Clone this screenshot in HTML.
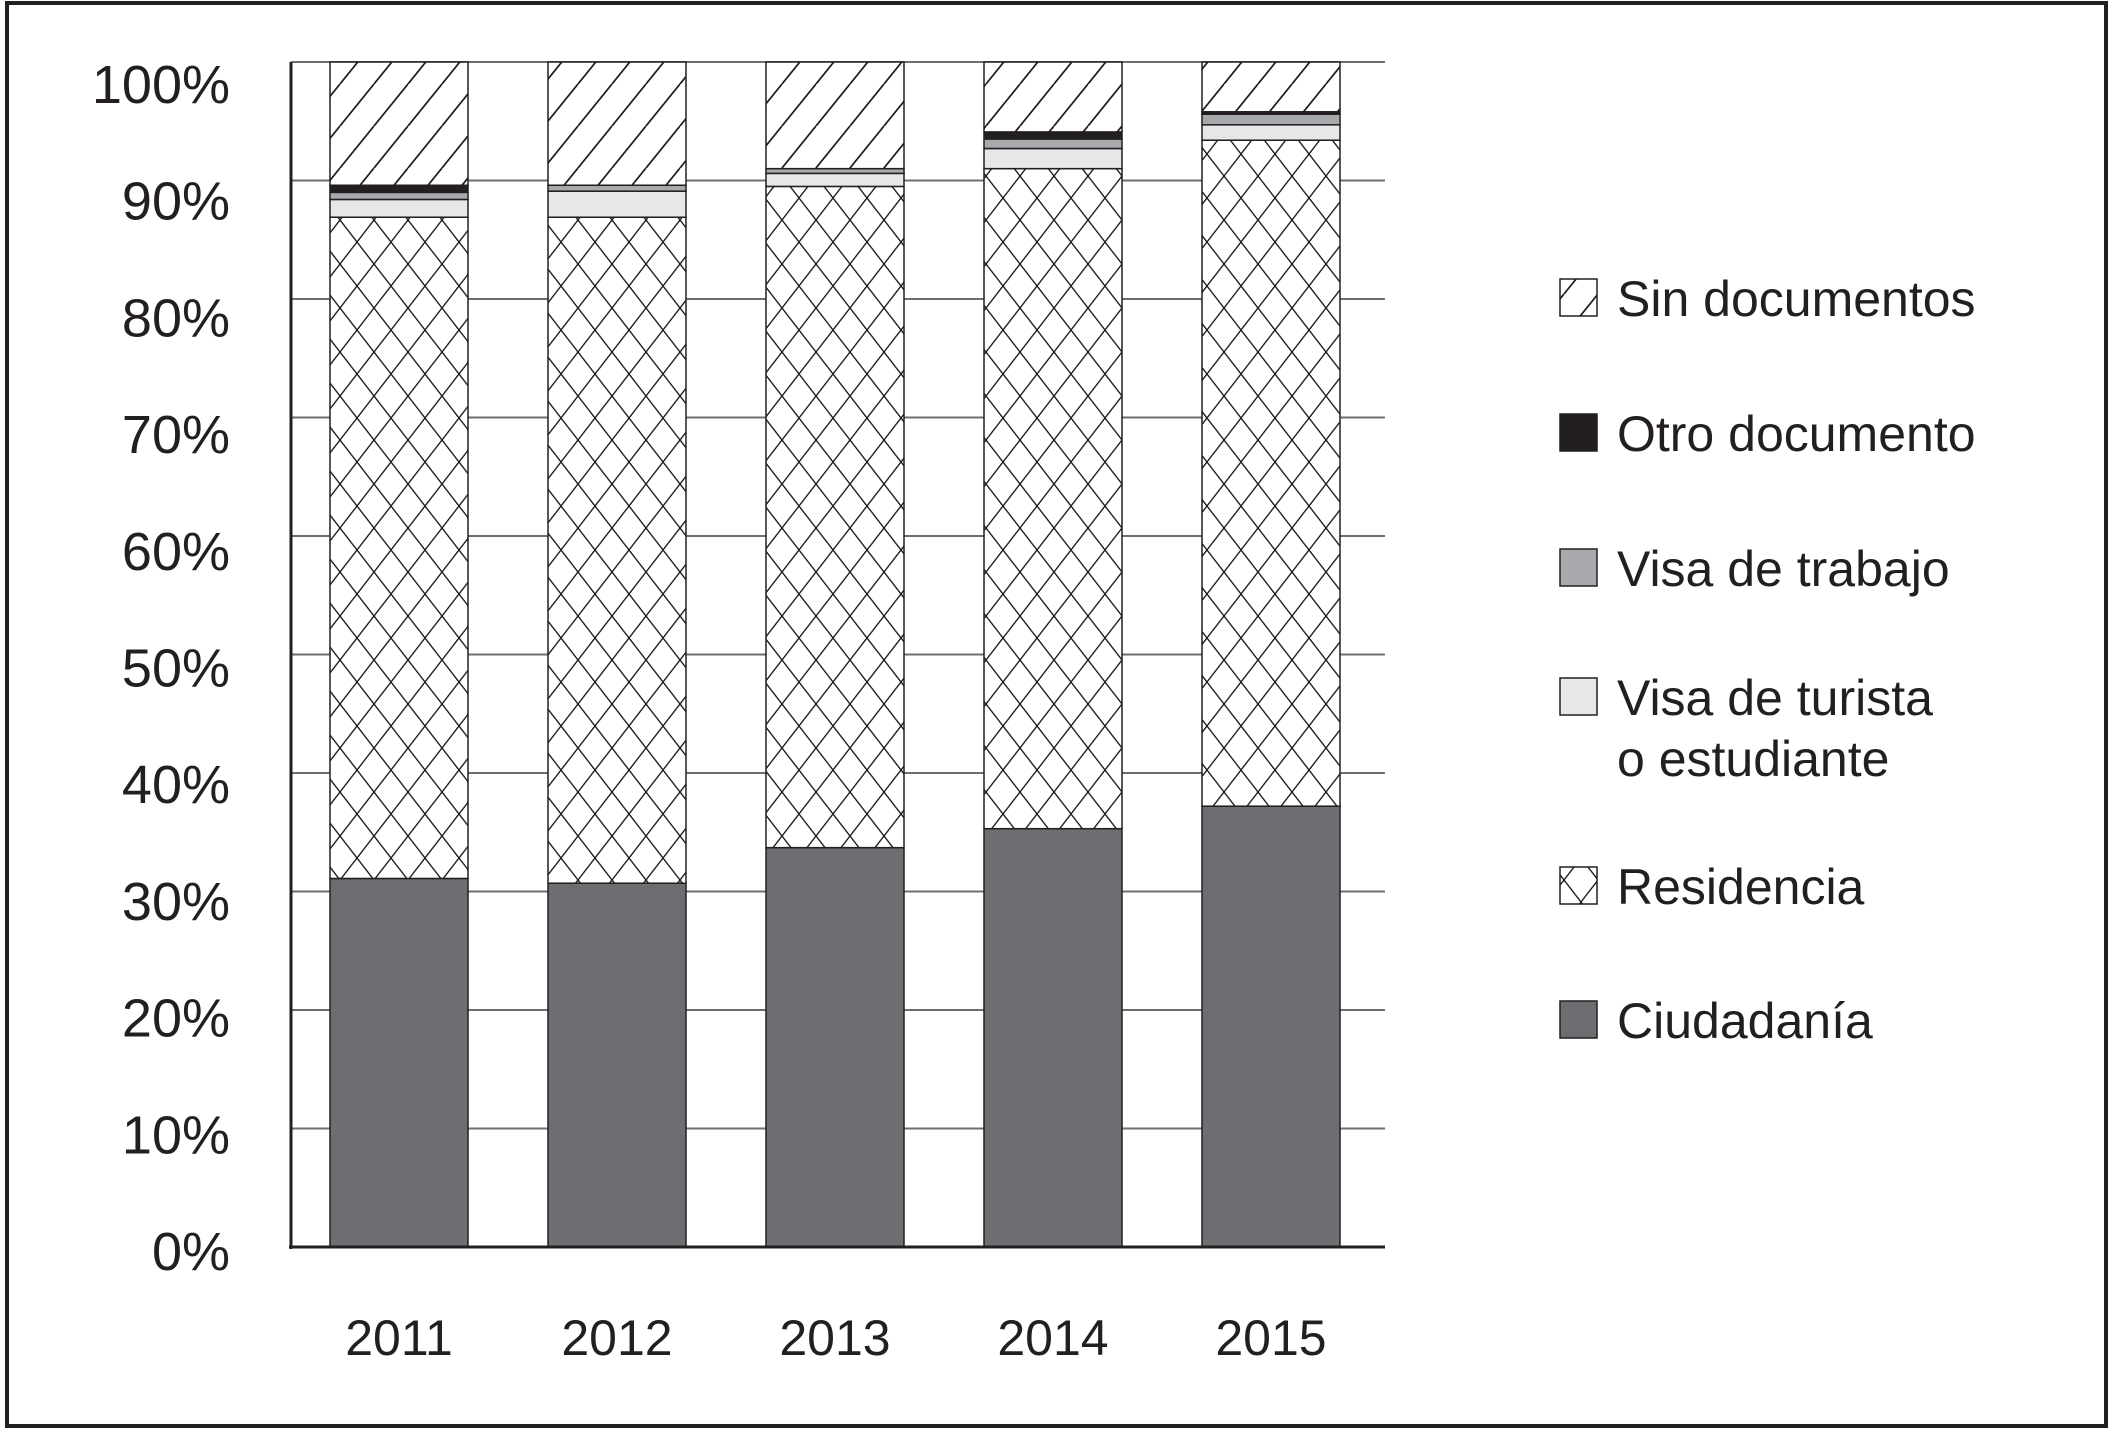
<!DOCTYPE html>
<html><head><meta charset="utf-8"><style>
html,body{margin:0;padding:0;background:#fff;}
svg{display:block;}
text{font-family:"Liberation Sans",sans-serif;fill:#231f20;}
</style></head><body>
<svg id="chart" width="2113" height="1432" viewBox="0 0 2113 1432" xmlns="http://www.w3.org/2000/svg">
<defs>
<pattern id="diag" patternUnits="userSpaceOnUse" width="34" height="42">
<line x1="-34" y1="84" x2="34" y2="0" stroke="#231f20" stroke-width="1.6"/>
<line x1="0" y1="42" x2="34" y2="0" stroke="#231f20" stroke-width="1.6"/>
<line x1="0" y1="84" x2="68" y2="0" stroke="#231f20" stroke-width="1.6"/>
<line x1="-34" y1="42" x2="0" y2="0" stroke="#231f20" stroke-width="1.6"/>
</pattern>
<pattern id="cross" patternUnits="userSpaceOnUse" width="34" height="44">
<rect width="34" height="44" fill="#fff"/>
<line x1="0" y1="0" x2="34" y2="44" stroke="#231f20" stroke-width="1.4"/>
<line x1="34" y1="0" x2="0" y2="44" stroke="#231f20" stroke-width="1.4"/>
</pattern>
</defs>
<rect x="7" y="3" width="2099" height="1423" fill="none" stroke="#231f20" stroke-width="4"/>
<g id="grid"></g>
<g id="bars"></g>
<g id="axes"></g>
<g id="legend"></g>
</svg>
<script>
const years = ["2011","2012","2013","2014","2015"];
const ciudadania = [31.1, 30.7, 33.7, 35.3, 37.2];
const residencia = [55.8, 56.2, 55.8, 55.7, 56.2];
const turista = [1.5, 2.2, 1.1, 1.7, 1.3];
const trabajo = [0.6, 0.5, 0.4, 0.8, 0.9];
const otro = [0.6, 0.0, 0.0, 0.6, 0.2];
const sinDoc = [10.4, 10.4, 9.0, 5.9, 4.2];
const yTicks = [0,10,20,30,40,50,60,70,80,90,100];
const tickLabels = ["0%","10%","20%","30%","40%","50%","60%","70%","80%","90%","100%"];
const seriesNames = ["Sin documentos","Otro documento","Visa de trabajo","Visa de turista","Residencia","Ciudadanía"];

const NS="http://www.w3.org/2000/svg";
const X0=291, X1=1385, Y0=1247, Y100=62;
const y = v => Y0 - (Y0-Y100)*v/100;
const barW=138, firstBar=330, barStep=218;
const x = i => firstBar + i*barStep;
function mk(tag, attrs, parent){const e=document.createElementNS(NS,tag);for(const k in attrs)e.setAttribute(k,attrs[k]);parent.appendChild(e);return e;}
const grid=document.getElementById('grid'), bars=document.getElementById('bars'), axes=document.getElementById('axes'), legend=document.getElementById('legend');

yTicks.forEach((t,i)=>{
  if(t>0){const l=mk('line',{x1:X0,x2:X1,y1:y(t),y2:y(t),stroke:'#6d6e71','stroke-width':2},grid);
  
  }
  const tx=mk('text',{x:230,y:y(t)+4+18*t/100+19,'text-anchor':'end','font-size':54},axes);
  tx.textContent=tickLabels[i];
  
  
});

const series=[
 {vals:ciudadania,fill:'#6d6e71',name:'ciudadania'},
 {vals:residencia,fill:'url(#cross)',name:'residencia'},
 {vals:turista,fill:'#e6e7e8',name:'visa-turista'},
 {vals:trabajo,fill:'#a7a9ac',name:'visa-trabajo'},
 {vals:otro,fill:'#231f20',name:'otro-documento'},
 {vals:sinDoc,fill:'url(#diag)',name:'sin-documentos'}
];
years.forEach((yr,i)=>{
  let acc=0;
  series.forEach(s=>{
    const v=s.vals[i]; if(v<=0) return;
    const top=y(acc+v), bot=y(acc);
    if(s.fill.startsWith('url')) mk('rect',{x:x(i),y:top,width:barW,height:bot-top,fill:'#fff'},bars);
    const r=mk('rect',{x:x(i),y:top,width:barW,height:bot-top,fill:s.fill,stroke:'#231f20','stroke-width':1.5},bars);
    
    
    acc+=v;
  });
  const t=mk('text',{x:x(i)+barW/2,y:1355,'text-anchor':'middle','font-size':50},axes);
  t.textContent=yr;
  
  
});
const ya=mk('line',{x1:X0,x2:X0,y1:Y100,y2:Y0+2,stroke:'#231f20','stroke-width':3},axes);


const xa=mk('line',{x1:X0-2,x2:X1,y1:Y0,y2:Y0,stroke:'#231f20','stroke-width':3},axes);



const legFills=['url(#diag)','#231f20','#a7a9ac','#e6e7e8','url(#cross)','#6d6e71'];
const legY=[299,434,569,698,887,1021];
seriesNames.forEach((n,i)=>{
  const g=mk('g',{},legend);
  
  
  mk('rect',{x:1560,y:legY[i]-20,width:37,height:37,fill:'#fff'},g);
  mk('rect',{x:1560,y:legY[i]-20,width:37,height:37,fill:legFills[i],stroke:'#231f20','stroke-width':1.5},g);
  const t=mk('text',{x:1617,y:legY[i]+17,'font-size':50},g);
  t.textContent=n;
  if(i===3){const t2=mk('text',{x:1617,y:legY[i]+78,'font-size':50},g);t2.textContent='o estudiante';}
});
</script>
</body></html>
